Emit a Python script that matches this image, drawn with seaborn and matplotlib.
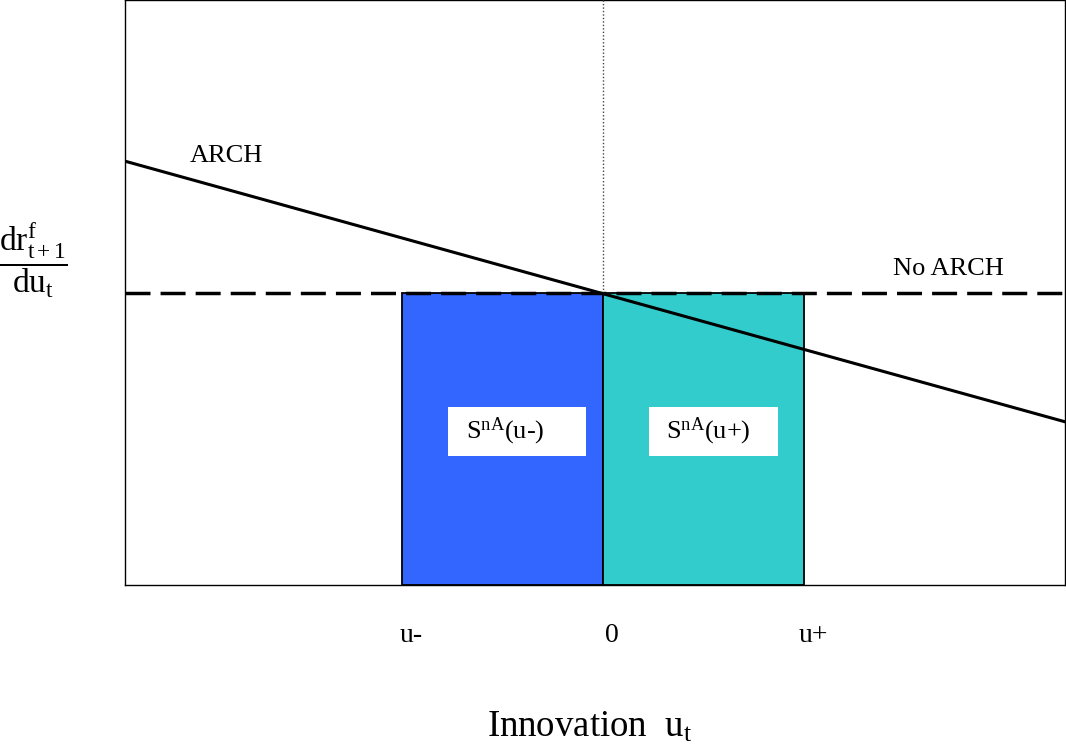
import matplotlib
matplotlib.use("Agg")
import matplotlib.pyplot as plt
import matplotlib.transforms as mtransforms
from matplotlib.patches import Rectangle
import seaborn as sns

# chart values (x in units of the innovation, y relative to the no-ARCH level)
tick_pos = [-1, 0, 1]
tick_labels = ["u-", "0", "u+"]
x_range = [-2.378, 2.299]
arch_y = [1.449, 0.558]
no_arch_y = [1.0, 1.0]
bar_left = [-1, 0]
bar_height = [1.0, 1.0]
bar_colors = ["#3366FF", "#33CCCC"]
box_labels = [r"S$^{\mathrm{nA}}$(u-)", r"S$^{\mathrm{nA}}$(u+)"]
box_x = [-0.428, 0.55]
text_x = [-0.488, 0.522]
box_y = 0.524
box_w = [0.687, 0.642]

sns.set_style("white")
plt.rcParams["font.family"] = ["Liberation Serif", "DejaVu Serif"]
plt.rcParams["text.color"] = "black"
plt.rcParams["xtick.color"] = "black"
plt.rcParams["mathtext.fontset"] = "custom"
plt.rcParams["mathtext.rm"] = "Liberation Serif"
plt.rcParams["mathtext.it"] = "Liberation Serif:italic"

fig = plt.figure(figsize=(10.66, 7.44), dpi=100)
ax = fig.add_axes([125 / 1066, 159 / 744, 940 / 1066, 585 / 744])

ax.bar(bar_left, bar_height, width=1, align="edge", color=bar_colors,
       edgecolor="black", linewidth=1.3, zorder=1)

for bx, tx, w, lab in zip(box_x, text_x, box_w, box_labels):
    ax.add_patch(Rectangle((bx - w / 2, box_y - 0.084), w, 0.168,
                           facecolor="white", edgecolor="none", zorder=2))
    ax.text(tx, box_y, lab, ha="center", va="center", fontsize=19, color="black",
            zorder=3)

ax.plot(x_range, no_arch_y, color="black", linewidth=2.5,
        dashes=(7.2, 2.9), zorder=4)
sns.lineplot(x=x_range, y=arch_y, ax=ax, color="black", linewidth=2.2, zorder=5)
ax.axvline(0, ymin=0.5, ymax=1, color="#444444", linewidth=1, linestyle=(0, (1, 1.5)),
           zorder=4)

ax.text(-2.055, 1.466, "ARCH", ha="left", va="center", fontsize=19, color="black",
        zorder=6)
ax.text(1.443, 1.079, "No ARCH", ha="left", va="center", fontsize=19, color="black",
        zorder=6)

ax.set_xlim(x_range)
ax.set_ylim(0, 2.0)
ax.set_yticks([])
ax.set_xticks(tick_pos)
ax.set_xticklabels(tick_labels, fontsize=20)
ax.tick_params(axis="x", length=0, pad=27, labelcolor="black")
shift = mtransforms.ScaledTranslation(9 / 100, 0, fig.dpi_scale_trans)
for lbl in ax.get_xticklabels():
    lbl.set_transform(lbl.get_transform() + shift)

for sp in ax.spines.values():
    sp.set_visible(True)
    sp.set_color("black")
    sp.set_linewidth(1.0)

fig.text(590 / 1066, 1 - 727 / 744, r"Innovation  u$_{\mathrm{t}}$", ha="center",
         va="center", fontsize=26.5, color="black")
fig.text(33 / 1066, 1 - 260 / 744,
         r"$\dfrac{\mathrm{dr}^{\mathrm{f}}_{\mathrm{t+1}}}{\mathrm{du}_{\mathrm{t}}}$",
         ha="center", va="center", fontsize=24, color="black")

fig.savefig("out.png", dpi=100)
